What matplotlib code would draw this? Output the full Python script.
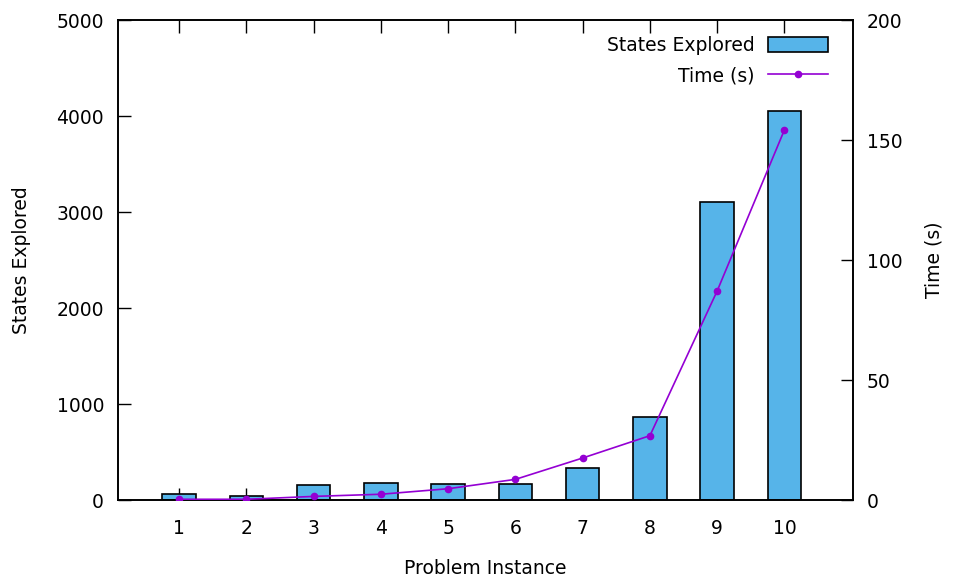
import matplotlib.pyplot as plt

# data
instances = [1, 2, 3, 4, 5, 6, 7, 8, 9, 10]
states_explored = [59, 38, 153, 174, 167, 163, 338, 865, 3108, 4055]
time_s = [0.3, 0.3, 1.5, 2.4, 4.7, 8.6, 17.5, 26.8, 87.1, 154.2]

plt.rcParams['font.family'] = ['DejaVu Sans']
plt.rcParams['font.size'] = 13.5

fig = plt.figure(figsize=(9.54, 5.8), dpi=100)
ax = fig.add_axes([118 / 954, 1 - 500 / 580, 735 / 954, 480 / 580])
ax2 = ax.twinx()

bars = ax.bar(instances, states_explored, width=0.5,
              color='#56B4E9', edgecolor='black', linewidth=1.2,
              label='States Explored', zorder=2)
line, = ax2.plot(instances, time_s, color='#9400D3', linewidth=1.2,
                 marker='o', markersize=4.5, label='Time (s)', zorder=3)

ax.set_xlim(0.09, 11.02)
ax.set_ylim(0, 5000)
ax2.set_ylim(0, 200)
ax.set_xticks(instances)
ax.set_yticks([0, 1000, 2000, 3000, 4000, 5000])
ax2.set_yticks([0, 50, 100, 150, 200])

ax.tick_params(axis='x', direction='in', top=True, length=9, width=1, pad=14)
ax.tick_params(axis='y', direction='in', length=9, width=1, pad=10)
ax2.tick_params(axis='y', direction='in', length=9, width=1, pad=10)

for a in (ax, ax2):
    for s in a.spines.values():
        s.set_linewidth(1.2)

ax.set_xlabel('Problem Instance', labelpad=15)
ax.set_ylabel('States Explored', labelpad=18)
ax2.set_ylabel('Time (s)', labelpad=16)

ax2.legend([bars, line], ['States Explored', 'Time (s)'],
           loc='upper right', bbox_to_anchor=(828 / 954, 1 - 36 / 580),
           bbox_transform=fig.transFigure, borderpad=0, borderaxespad=0,
           markerfirst=False, frameon=False,
           handlelength=3.2, handleheight=0.8, handletextpad=0.7,
           fontsize=13.5, labelspacing=0.6)

fig.savefig('out.png', dpi=100)
